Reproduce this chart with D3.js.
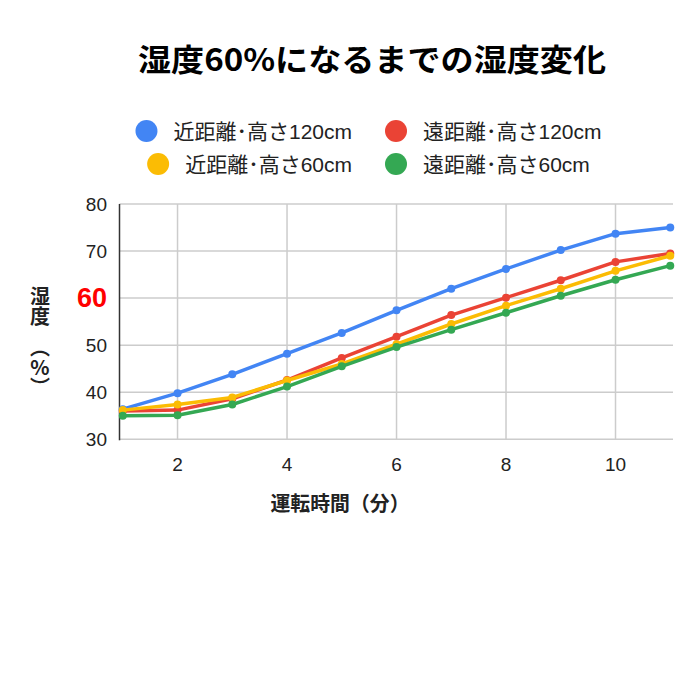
<!DOCTYPE html>
<html>
<head>
<meta charset="utf-8">
<script src="https://cdn.jsdelivr.net/npm/d3@7"></script>
<style>
  body { margin: 0; background: #fff; }
  text { font-family: "Liberation Sans", Arial, sans-serif; }
  .jp { font-family: "Noto Sans CJK JP", sans-serif; }
  .mix { font-family: "Liberation Sans", "Noto Sans CJK JP", sans-serif; }
</style>
</head>
<body>
<script>
// data
var minutes = [1, 2, 3, 4, 5, 6, 7, 8, 9, 10, 11];
var seriesNames = ['近距離･高さ120cm', '遠距離･高さ120cm', '近距離･高さ60cm', '遠距離･高さ60cm'];
var seriesColors = ['#4285F4', '#EA4335', '#FBBC04', '#34A853'];
var near120 = [36.4, 39.8, 43.8, 48.2, 52.6, 57.4, 62.0, 66.2, 70.2, 73.7, 75.0];
var far120  = [36.0, 36.2, 38.6, 42.6, 47.3, 51.8, 56.4, 60.1, 63.8, 67.7, 69.5];
var near60  = [36.2, 37.4, 38.9, 42.5, 46.0, 50.2, 54.5, 58.4, 62.0, 65.8, 69.0];
var far60   = [35.0, 35.1, 37.4, 41.2, 45.5, 49.6, 53.3, 56.9, 60.5, 63.9, 66.9];
var xTicks = [2, 4, 6, 8, 10];
var yTicks = [30, 40, 50, 60, 70, 80];
var titleText = '湿度60%になるまでの湿度変化';
var xTitle = '運転時間（分）';

var svgWidth = 700, svgHeight = 700;
var svg = d3.select('body').append('svg')
  .attr('width', svgWidth)
  .attr('height', svgHeight);

var x = d3.scaleLinear().domain([0.94, 11.05]).range([119.5, 673]);
var y = d3.scaleLinear().domain([30, 80]).range([439.3, 204]);

// title
svg.append('text')
  .attr('class', 'jp')
  .attr('x', 372).attr('y', 57)
  .attr('text-anchor', 'middle')
  .attr('dominant-baseline', 'central')
  .attr('font-size', 31)
  .attr('font-weight', 'bold')
  .attr('fill', '#000')
  .attr('textLength', 468)
  .attr('lengthAdjust', 'spacingAndGlyphs')
  .text(titleText);

// legend, two rows each centred
var legendRows = [[0, 1], [2, 3]];
var legendY = [131, 164];
legendRows.forEach(function (row, r) {
  var g = svg.append('g');
  var cursor = 0;
  row.forEach(function (si, k) {
    if (k > 0) cursor += 33;
    var item = g.append('g').attr('transform', 'translate(' + cursor + ',0)');
    item.append('circle')
      .attr('cx', 11).attr('cy', legendY[r])
      .attr('r', 11)
      .attr('fill', seriesColors[si]);
    var t = item.append('text')
      .attr('class', 'mix')
      .attr('x', 38).attr('y', legendY[r])
      .attr('dominant-baseline', 'central')
      .attr('font-size', 21)
      .attr('fill', '#222')
      .text(seriesNames[si]);
    cursor += 38 + t.node().getComputedTextLength();
  });
  g.attr('transform', 'translate(' + (368.5 - cursor / 2) + ',0)');
});

// grid
svg.append('g').selectAll('line.h')
  .data(yTicks)
  .enter().append('line')
  .attr('x1', 119.5).attr('x2', 673)
  .attr('y1', function (d) { return y(d); })
  .attr('y2', function (d) { return y(d); })
  .attr('stroke', '#cccccc')
  .attr('stroke-width', 1.5);

svg.append('g').selectAll('line.v')
  .data(xTicks)
  .enter().append('line')
  .attr('x1', function (d) { return x(d); })
  .attr('x2', function (d) { return x(d); })
  .attr('y1', y(80)).attr('y2', y(30))
  .attr('stroke', '#cccccc')
  .attr('stroke-width', 1.5);

// left axis line
svg.append('line')
  .attr('x1', 119.5).attr('x2', 119.5)
  .attr('y1', y(80)).attr('y2', y(30) + 1)
  .attr('stroke', '#333')
  .attr('stroke-width', 1.5);

// y tick labels (60 highlighted)
svg.append('g').selectAll('text')
  .data(yTicks)
  .enter().append('text')
  .attr('x', 107)
  .attr('y', function (d) { return y(d); })
  .attr('text-anchor', 'end')
  .attr('dominant-baseline', 'central')
  .attr('font-size', function (d) { return d === 60 ? 27 : 19; })
  .attr('font-weight', function (d) { return d === 60 ? 'bold' : 'normal'; })
  .attr('fill', function (d) { return d === 60 ? '#ff0000' : '#222'; })
  .text(function (d) { return d; });

// x tick labels
svg.append('g').selectAll('text')
  .data(xTicks)
  .enter().append('text')
  .attr('x', function (d) { return x(d); })
  .attr('y', 464)
  .attr('text-anchor', 'middle')
  .attr('dominant-baseline', 'central')
  .attr('font-size', 19)
  .attr('fill', '#222')
  .text(function (d) { return d; });

// x title
svg.append('text')
  .attr('class', 'jp')
  .attr('x', 340).attr('y', 502)
  .attr('text-anchor', 'middle')
  .attr('dominant-baseline', 'central')
  .attr('font-size', 20)
  .attr('font-weight', 'bold')
  .attr('fill', '#222')
  .attr('textLength', 139)
  .attr('lengthAdjust', 'spacingAndGlyphs')
  .text(xTitle);

// y title, written vertically in two pieces
var yTitleParts = [['湿度', 286], ['（%）', 337]];
svg.append('g').selectAll('text')
  .data(yTitleParts)
  .enter().append('text')
  .attr('class', 'jp')
  .attr('x', 40)
  .attr('y', function (d) { return d[1]; })
  .style('writing-mode', 'vertical-rl')
  .style('text-orientation', 'upright')
  .attr('font-size', 20)
  .attr('font-weight', 'bold')
  .attr('fill', '#222')
  .text(function (d) { return d[0]; });

// series
var allSeries = [near120, far120, near60, far60];
var line = d3.line()
  .x(function (d, i) { return x(minutes[i]); })
  .y(function (d) { return y(d); });

allSeries.forEach(function (vals, si) {
  svg.append('path')
    .datum(vals)
    .attr('d', line)
    .attr('fill', 'none')
    .attr('stroke', seriesColors[si])
    .attr('stroke-width', 3.5)
    .attr('stroke-linejoin', 'round');
  svg.append('g').selectAll('circle')
    .data(vals)
    .enter().append('circle')
    .attr('cx', function (d, i) { return x(minutes[i]); })
    .attr('cy', function (d) { return y(d); })
    .attr('r', 4)
    .attr('fill', seriesColors[si]);
});
</script>
</body>
</html>
